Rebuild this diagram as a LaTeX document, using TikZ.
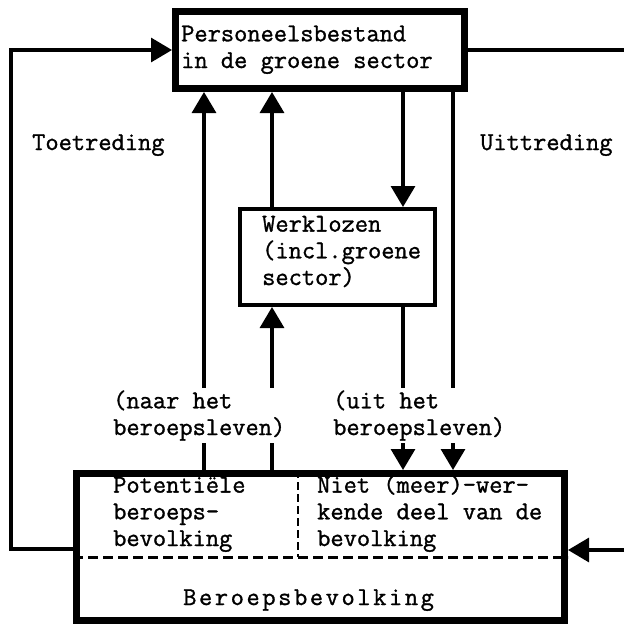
\documentclass[tikz,border=0pt]{standalone}
\usepackage{fontspec}
\usetikzlibrary{arrows.meta}
\newfontfamily\typew[FakeBold=1.2]{Latin Modern Mono}
\newcommand\twfont{\fontsize{25.7pt}{26.7pt}\selectfont\typew}
\newcommand\ks{\kern2.6pt}
\tikzset{
  boxthick/.style={draw, line width=7pt, inner sep=0pt},
  boxthin/.style={draw, line width=4pt, inner sep=0pt},
  txt/.style={font=\twfont, anchor=base west, align=left, inner sep=0pt},
  lbl/.style={font=\twfont, anchor=base west, align=left, inner sep=2pt, fill=white},
  conn/.style={line width=3.2pt},
  arr/.style={-{Triangle[length=21pt,width=24pt]}},
  dashline/.style={line width=3pt, dash pattern=on 10pt off 5pt},
  vdashline/.style={line width=2.5pt, dash pattern=on 8pt off 4pt}
}
\begin{document}
\begin{tikzpicture}[x=1pt,y=-1pt]
\useasboundingbox (0,0) rectangle (624,629);
% boxes
\node[boxthick, minimum width=289pt, minimum height=77pt] (top) at (320,50) {};
\node[boxthin, minimum width=195pt, minimum height=96pt] (wrk) at (337.5,257) {};
\node[boxthick, minimum width=488pt, minimum height=147pt] (bot) at (320.5,547) {};
% helper coordinates
\coordinate (xA) at (204,0);
\coordinate (xB) at (272,0);
\coordinate (xD) at (403,0);
\coordinate (xF) at (453,0);
\coordinate (yd) at (0,557);
\coordinate (xv) at (298,0);
\coordinate (lb) at (11,549);
\coordinate (lt) at (11,50);
\coordinate (rt) at (624,50);
\coordinate (rb) at (624,550);
% vertical connectors
\draw[conn,arr] (bot.north -| xA) -- (top.south -| xA);
\draw[conn,arr] (wrk.north -| xB) -- (top.south -| xB);
\draw[conn,arr] (bot.north -| xB) -- (wrk.south -| xB);
\draw[conn,arr] (top.south -| xD) -- (wrk.north -| xD);
\draw[conn,arr] (wrk.south -| xD) -- (bot.north -| xD);
\draw[conn,arr] (top.south -| xF) -- (bot.north -| xF);
% outer loops
\draw[conn,arr] (bot.west |- lb) -- (lb) -- (lt) -- (top.west |- lt);
\draw[conn] (top.east |- rt) -- (rt);
\draw[conn,arr] (rb) -- (bot.east |- rb);
% dashed partitions
\draw[dashline] (bot.west |- yd) -- (bot.east |- yd);
\draw[vdashline] (bot.north -| xv) -- (xv |- yd);
% texts (anchor = baseline of last line)
\node[txt] (ttop) at (181,68) {Personeelsbestand\\in de groene sector};
\node[txt] (twrk) at (262,285) {Werklozen\\(incl.groene\\sector)};
\node[txt] (tpot) at (113,546) {Potenti\"ele\\beroeps-\\bevolking};
\node[txt] (tniet) at (317,546) {Niet (meer)-wer-\\kende deel van de\\bevolking};
\node[txt] (tber) at (183,605) {B\ks e\ks r\ks o\ks e\ks p\ks s\ks b\ks e\ks v\ks o\ks l\ks k\ks i\ks n\ks g};
\node[txt] (ttoe) at (32,150) {Toetreding};
\node[txt] (tuit) at (480,150) {Uittreding};
\node[lbl] (lnaar) at (111,435) {(naar het\\beroepsleven)};
\node[lbl] (luit) at (331,435) {(uit het\\beroepsleven)};
\end{tikzpicture}
\end{document}
